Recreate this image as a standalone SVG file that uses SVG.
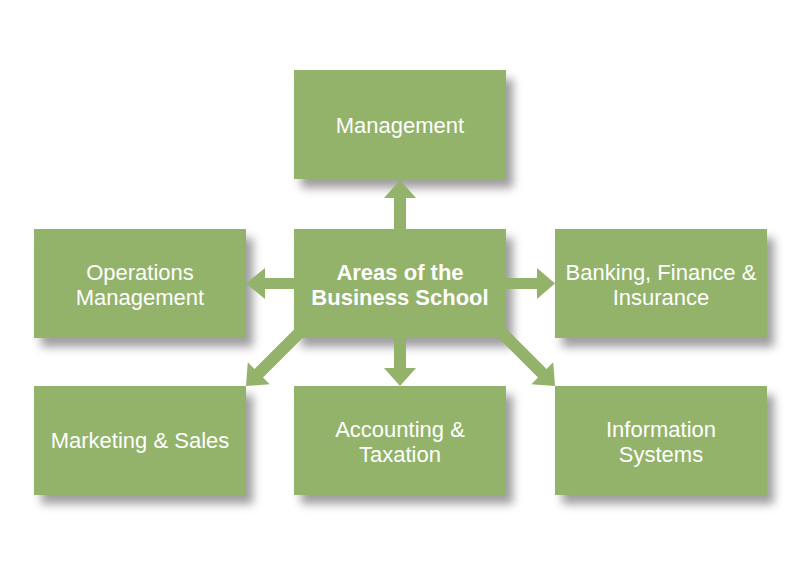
<svg xmlns="http://www.w3.org/2000/svg" width="800" height="566" viewBox="0 0 800 566">
<defs>
<filter id="sh" x="-20%" y="-20%" width="150%" height="160%">
<feGaussianBlur in="SourceAlpha" stdDeviation="5"/>
<feOffset dx="7" dy="9" result="b"/>
<feFlood flood-color="#000" flood-opacity="0.38"/>
<feComposite in2="b" operator="in"/>
<feMerge><feMergeNode/><feMergeNode in="SourceGraphic"/></feMerge>
</filter>
<style>
.box{fill:#93b36a;filter:url(#sh)}
.t{font-family:"Liberation Sans",Arial,sans-serif;font-size:22px;fill:#fff;text-anchor:middle}
.b{font-weight:bold}
.a{fill:#93b36a}
</style>
</defs>
<rect width="800" height="566" fill="#fff"/>
<g id="management"><rect class="box" x="294" y="70" width="212" height="109"/><text class="t" x="400" y="133">Management</text></g>
<g id="operations"><rect class="box" x="34" y="229" width="212" height="109"/><text class="t" x="140" y="280">Operations<tspan x="140" dy="25">Management</tspan></text></g>
<g id="center"><rect class="box" x="294" y="229" width="212" height="109"/><text class="t b" x="400" y="280">Areas of the<tspan x="400" dy="25">Business School</tspan></text></g>
<g id="banking"><rect class="box" x="555" y="229" width="212" height="109"/><text class="t" x="661" y="280">Banking, Finance &amp;<tspan x="661" dy="25">Insurance</tspan></text></g>
<g id="marketing"><rect class="box" x="34" y="386" width="212" height="109"/><text class="t" x="140" y="448">Marketing &amp; Sales</text></g>
<g id="accounting"><rect class="box" x="294" y="386" width="212" height="109"/><text class="t" x="400" y="437">Accounting &amp;<tspan x="400" dy="25">Taxation</tspan></text></g>
<g id="information"><rect class="box" x="555" y="386" width="212" height="109"/><text class="t" x="661" y="437">Information<tspan x="661" dy="25">Systems</tspan></text></g>
<g id="connectors">
<polygon class="a" points="394,232 394,198 384,198 400,180 416,198 406,198 406,232"/>
<polygon class="a" points="394,335 394,368 384,368 400,386 416,368 406,368 406,335"/>
<polygon class="a" points="298,278 265,278 265,268 246,283.5 265,299 265,289 298,289"/>
<polygon class="a" points="502,278 537,278 537,268 555,283.5 537,299 537,289 502,289"/>
<g transform="translate(246,386) rotate(-45)"><polygon class="a" points="0,0 18,-15.5 18,-6 80,-6 80,6 18,6 18,15.5"/></g>
<g transform="translate(555,386) rotate(-135)"><polygon class="a" points="0,0 18,-15.5 18,-6 80,-6 80,6 18,6 18,15.5"/></g>
</g>
</svg>
